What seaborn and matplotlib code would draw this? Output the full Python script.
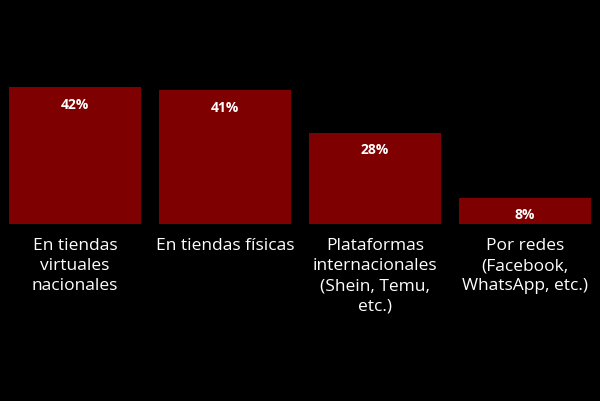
import matplotlib
matplotlib.use("Agg")
import matplotlib.pyplot as plt
import seaborn as sns
import pandas as pd

categories = ["En tiendas\nvirtuales\nnacionales", "En tiendas físicas",
              "Plataformas\ninternacionales\n(Shein, Temu,\netc.)", "Por redes\n(Facebook,\nWhatsApp, etc.)"]
values = [42, 41, 28, 8]

df = pd.DataFrame({"cat": categories, "val": values})
sns.set_style("white")
plt.rcParams['font.family'] = ['Open Sans', 'DejaVu Sans']
fig = plt.figure(figsize=(6, 4.01), dpi=100, facecolor="black")
ax = fig.add_axes([0, 0.441, 1, 0.559])
ax.set_facecolor("black")
sns.barplot(data=df, x="cat", y="val", color="#7f0000", saturation=1, width=0.88,
            edgecolor="none", linewidth=0, ax=ax)
ax.set_ylim(0, 68.7)
ax.set_xlim(-0.5, 3.5)
for i, v in enumerate(values):
    ax.text(i, v - 3.2, f"{v}%", ha="center", va="top", color="white", fontsize=10, fontweight="bold")
ax.set_xlabel(""); ax.set_ylabel("")
ax.set_yticks([])
ax.tick_params(axis="x", length=0, pad=10, colors="white", labelsize=12.5)
for lab in ax.get_xticklabels():
    lab.set_color("white")
    lab.set_linespacing(1.35)
for s in ax.spines.values():
    s.set_visible(False)
fig.savefig("out.png", dpi=100, facecolor="black")
